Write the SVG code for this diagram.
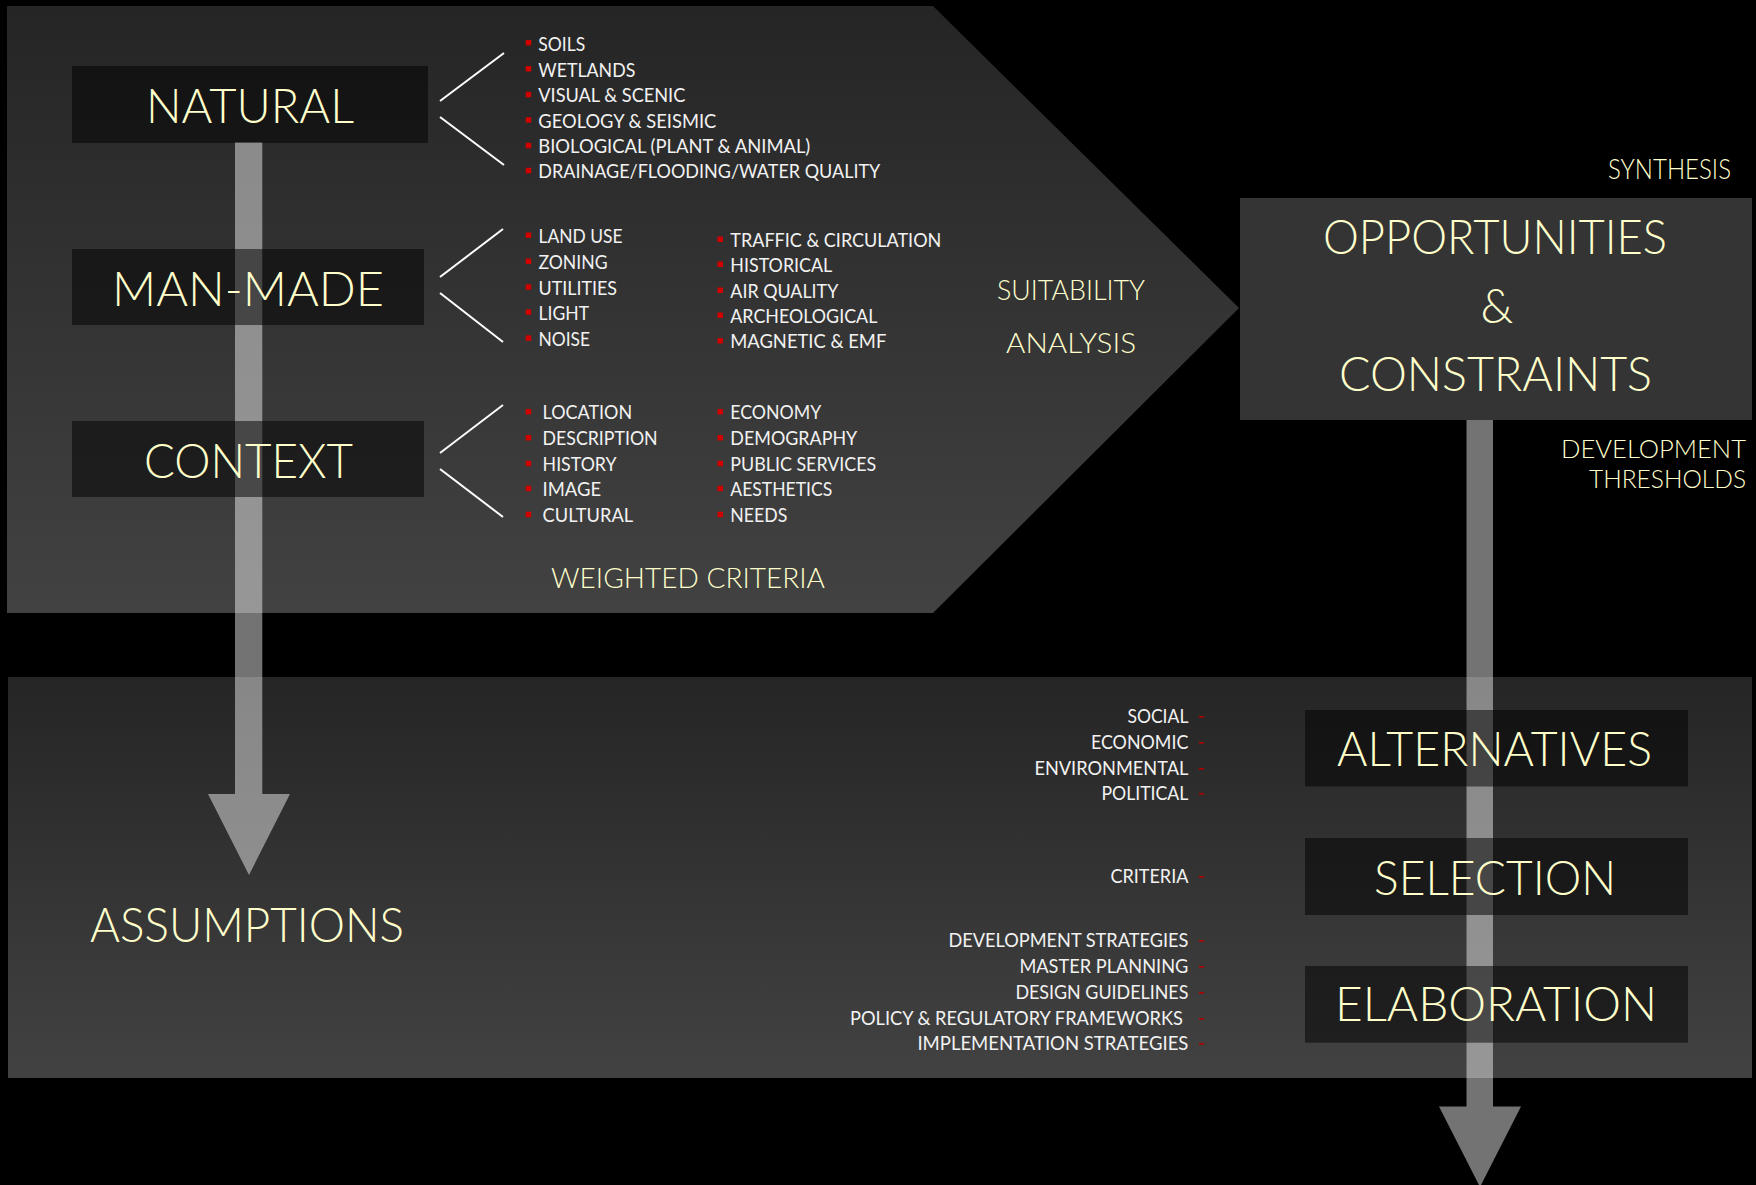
<svg xmlns="http://www.w3.org/2000/svg" width="1756" height="1185" viewBox="0 0 1756 1185">
<defs>
<linearGradient id="pg" x1="0" y1="0" x2="0" y2="1">
<stop offset="0" stop-color="#252525"/>
<stop offset="1" stop-color="#424242"/>
</linearGradient>
<style>
.t{font-family:Lato,"Liberation Sans",sans-serif;font-weight:300;fill:#ffffcc;}
.big{font-size:47px;}
.mid{font-size:27px;}
.sm{font-size:25px;}
.l{font-family:Lato,"Liberation Sans",sans-serif;font-size:19px;fill:#f2f2f2;}
.b{fill:#d00000;}
.d{fill:#b00000;}
.box{fill:#000;fill-opacity:0.51;}
.arrow{fill:#fff;fill-opacity:0.45;}
.br{stroke:#fff;stroke-width:2;fill:none;}
</style>
</defs>
<rect x="0" y="0" width="1756" height="1185" fill="#000"/>
<g id="panel-analysis">
<polygon points="7,6 933,6 1239,308 933,613 7,613" fill="url(#pg)"/>
</g>
<g id="panel-development">
<rect x="8" y="677" width="1744" height="401" fill="url(#pg)"/>
</g>
<g id="connectors">
<path class="arrow" d="M235,142 H262.3 V794 H290 L249,875 L208,794 H235 Z"/>
<path class="arrow" d="M1466.5,420 H1493 V1106.5 H1521 L1480,1187 L1439,1106.5 H1466.5 Z"/>
<line class="br" x1="440" y1="101" x2="504" y2="53"/>
<line class="br" x1="440" y1="117" x2="504" y2="165"/>
<line class="br" x1="440" y1="277" x2="503" y2="229"/>
<line class="br" x1="440" y1="293" x2="503" y2="342"/>
<line class="br" x1="440" y1="453" x2="503" y2="405"/>
<line class="br" x1="440" y1="469" x2="503" y2="517"/>
</g>
<g id="natural">
<rect class="box" x="72" y="66" width="356" height="77"/>
<text class="t big" x="146" y="122.5" textLength="208" lengthAdjust="spacingAndGlyphs">NATURAL</text>
</g>
<g id="man-made">
<rect class="box" x="72" y="249" width="352" height="76"/>
<text class="t big" x="112" y="305.5" textLength="272" lengthAdjust="spacingAndGlyphs">MAN-MADE</text>
</g>
<g id="context">
<rect class="box" x="72" y="421" width="352" height="76"/>
<text class="t big" x="144" y="477.5" textLength="209" lengthAdjust="spacingAndGlyphs">CONTEXT</text>
</g>
<g id="natural-list">
<rect class="b" x="525.7" y="40" width="5.5" height="5.5"/>
<rect class="b" x="525.7" y="66" width="5.5" height="5.5"/>
<rect class="b" x="525.7" y="91.8" width="5.5" height="5.5"/>
<rect class="b" x="525.7" y="117.2" width="5.5" height="5.5"/>
<rect class="b" x="525.7" y="142.8" width="5.5" height="5.5"/>
<rect class="b" x="525.7" y="167.8" width="5.5" height="5.5"/>
<text class="l" x="538.3" y="50.7" textLength="47" lengthAdjust="spacingAndGlyphs">SOILS</text>
<text class="l" x="538.3" y="76.7" textLength="97" lengthAdjust="spacingAndGlyphs">WETLANDS</text>
<text class="l" x="538.3" y="102.3" textLength="147" lengthAdjust="spacingAndGlyphs">VISUAL &amp; SCENIC</text>
<text class="l" x="538.3" y="127.7" textLength="178" lengthAdjust="spacingAndGlyphs">GEOLOGY &amp; SEISMIC</text>
<text class="l" x="538.3" y="153.3" textLength="272" lengthAdjust="spacingAndGlyphs">BIOLOGICAL (PLANT &amp; ANIMAL)</text>
<text class="l" x="538.3" y="178.3" textLength="342" lengthAdjust="spacingAndGlyphs">DRAINAGE/FLOODING/WATER QUALITY</text>
</g>
<g id="man-made-list">
<rect class="b" x="525.7" y="232.5" width="5.5" height="5.5"/>
<rect class="b" x="525.7" y="258.5" width="5.5" height="5.5"/>
<rect class="b" x="525.7" y="284.3" width="5.5" height="5.5"/>
<rect class="b" x="525.7" y="309.3" width="5.5" height="5.5"/>
<rect class="b" x="525.7" y="335.3" width="5.5" height="5.5"/>
<text class="l" x="538.5" y="243.3" textLength="84" lengthAdjust="spacingAndGlyphs">LAND USE</text>
<text class="l" x="538.5" y="269.3" textLength="69" lengthAdjust="spacingAndGlyphs">ZONING</text>
<text class="l" x="538.5" y="295" textLength="78.5" lengthAdjust="spacingAndGlyphs">UTILITIES</text>
<text class="l" x="538.5" y="320" textLength="50.6" lengthAdjust="spacingAndGlyphs">LIGHT</text>
<text class="l" x="538.5" y="346" textLength="51.6" lengthAdjust="spacingAndGlyphs">NOISE</text>
<rect class="b" x="717.5" y="236.5" width="5.5" height="5.5"/>
<rect class="b" x="717.5" y="261.5" width="5.5" height="5.5"/>
<rect class="b" x="717.5" y="287.5" width="5.5" height="5.5"/>
<rect class="b" x="717.5" y="312.5" width="5.5" height="5.5"/>
<rect class="b" x="717.5" y="338" width="5.5" height="5.5"/>
<text class="l" x="730.3" y="246.7" textLength="211" lengthAdjust="spacingAndGlyphs">TRAFFIC &amp; CIRCULATION</text>
<text class="l" x="730.3" y="271.7" textLength="102" lengthAdjust="spacingAndGlyphs">HISTORICAL</text>
<text class="l" x="730.3" y="297.7" textLength="108" lengthAdjust="spacingAndGlyphs">AIR QUALITY</text>
<text class="l" x="730.3" y="322.7" textLength="147" lengthAdjust="spacingAndGlyphs">ARCHEOLOGICAL</text>
<text class="l" x="730.3" y="348.3" textLength="156" lengthAdjust="spacingAndGlyphs">MAGNETIC &amp; EMF</text>
</g>
<g id="context-list">
<rect class="b" x="525.7" y="409" width="5.5" height="5.5"/>
<rect class="b" x="525.7" y="435" width="5.5" height="5.5"/>
<rect class="b" x="525.7" y="460.7" width="5.5" height="5.5"/>
<rect class="b" x="525.7" y="485.7" width="5.5" height="5.5"/>
<rect class="b" x="525.7" y="511.7" width="5.5" height="5.5"/>
<text class="l" x="542.6" y="419.3" textLength="89.5" lengthAdjust="spacingAndGlyphs">LOCATION</text>
<text class="l" x="542.6" y="445.3" textLength="115" lengthAdjust="spacingAndGlyphs">DESCRIPTION</text>
<text class="l" x="542.6" y="471" textLength="74" lengthAdjust="spacingAndGlyphs">HISTORY</text>
<text class="l" x="542.6" y="496" textLength="58.5" lengthAdjust="spacingAndGlyphs">IMAGE</text>
<text class="l" x="542.6" y="522" textLength="90.5" lengthAdjust="spacingAndGlyphs">CULTURAL</text>
<rect class="b" x="717.5" y="409" width="5.5" height="5.5"/>
<rect class="b" x="717.5" y="435" width="5.5" height="5.5"/>
<rect class="b" x="717.5" y="460.7" width="5.5" height="5.5"/>
<rect class="b" x="717.5" y="485.7" width="5.5" height="5.5"/>
<rect class="b" x="717.5" y="511.7" width="5.5" height="5.5"/>
<text class="l" x="730.3" y="419.3" textLength="91" lengthAdjust="spacingAndGlyphs">ECONOMY</text>
<text class="l" x="730.3" y="445.3" textLength="127" lengthAdjust="spacingAndGlyphs">DEMOGRAPHY</text>
<text class="l" x="730.3" y="471" textLength="146" lengthAdjust="spacingAndGlyphs">PUBLIC SERVICES</text>
<text class="l" x="730.3" y="496" textLength="102" lengthAdjust="spacingAndGlyphs">AESTHETICS</text>
<text class="l" x="730.3" y="522" textLength="57" lengthAdjust="spacingAndGlyphs">NEEDS</text>
</g>
<g id="weighted-criteria">
<text class="t mid" x="551" y="588" textLength="274" lengthAdjust="spacingAndGlyphs">WEIGHTED CRITERIA</text>
</g>
<g id="suitability-analysis">
<text class="t mid" x="997" y="300" textLength="148" lengthAdjust="spacingAndGlyphs">SUITABILITY</text>
<text class="t mid" x="1006" y="353" textLength="130" lengthAdjust="spacingAndGlyphs">ANALYSIS</text>
</g>
<g id="synthesis">
<text class="t mid" x="1731" y="179" text-anchor="end" textLength="123" lengthAdjust="spacingAndGlyphs">SYNTHESIS</text>
</g>
<g id="opportunities-constraints">
<rect x="1240" y="198" width="512" height="222" fill="#343434"/>
<text class="t big" x="1323" y="254" textLength="344" lengthAdjust="spacingAndGlyphs">OPPORTUNITIES</text>
<text class="t big" x="1497" y="323" text-anchor="middle">&amp;</text>
<text class="t big" x="1339" y="391" textLength="313" lengthAdjust="spacingAndGlyphs">CONSTRAINTS</text>
</g>
<g id="development-thresholds">
<text class="t sm" x="1746" y="458" text-anchor="end" textLength="185" lengthAdjust="spacingAndGlyphs">DEVELOPMENT</text>
<text class="t sm" x="1746" y="488" text-anchor="end" textLength="157" lengthAdjust="spacingAndGlyphs">THRESHOLDS</text>
</g>
<g id="assumptions">
<text class="t big" x="90" y="942" textLength="314" lengthAdjust="spacingAndGlyphs">ASSUMPTIONS</text>
</g>
<g id="alternatives">
<rect class="box" x="1305" y="710" width="383" height="76.5"/>
<text class="t big" x="1337" y="766" textLength="315" lengthAdjust="spacingAndGlyphs">ALTERNATIVES</text>
</g>
<g id="selection">
<rect class="box" x="1305" y="838" width="383" height="77"/>
<text class="t big" x="1374" y="894.6" textLength="242" lengthAdjust="spacingAndGlyphs">SELECTION</text>
</g>
<g id="elaboration">
<rect class="box" x="1305" y="966" width="383" height="76.7"/>
<text class="t big" x="1335" y="1021" textLength="322" lengthAdjust="spacingAndGlyphs">ELABORATION</text>
</g>
<g id="alternatives-list">
<text class="l" x="1188.4" y="723" text-anchor="end" textLength="61" lengthAdjust="spacingAndGlyphs">SOCIAL</text>
<text class="l" x="1188.4" y="749" text-anchor="end" textLength="97.5" lengthAdjust="spacingAndGlyphs">ECONOMIC</text>
<text class="l" x="1188.4" y="775" text-anchor="end" textLength="154" lengthAdjust="spacingAndGlyphs">ENVIRONMENTAL</text>
<text class="l" x="1188.4" y="800" text-anchor="end" textLength="87" lengthAdjust="spacingAndGlyphs">POLITICAL</text>
<rect class="d" x="1199" y="716" width="5" height="1.6"/>
<rect class="d" x="1199" y="742" width="5" height="1.6"/>
<rect class="d" x="1199" y="768" width="5" height="1.6"/>
<rect class="d" x="1199" y="793" width="5" height="1.6"/>
</g>
<g id="selection-list">
<text class="l" x="1188.4" y="883" text-anchor="end" textLength="78" lengthAdjust="spacingAndGlyphs">CRITERIA</text>
<rect class="d" x="1199" y="876" width="5" height="1.6"/>
</g>
<g id="elaboration-list">
<text class="l" x="1188.4" y="947" text-anchor="end" textLength="240" lengthAdjust="spacingAndGlyphs">DEVELOPMENT STRATEGIES</text>
<text class="l" x="1188.4" y="973" text-anchor="end" textLength="169" lengthAdjust="spacingAndGlyphs">MASTER PLANNING</text>
<text class="l" x="1188.4" y="999" text-anchor="end" textLength="173" lengthAdjust="spacingAndGlyphs">DESIGN GUIDELINES</text>
<text class="l" x="1183" y="1024.7" text-anchor="end" textLength="333" lengthAdjust="spacingAndGlyphs">POLICY &amp; REGULATORY FRAMEWORKS</text>
<text class="l" x="1188.4" y="1050" text-anchor="end" textLength="271" lengthAdjust="spacingAndGlyphs">IMPLEMENTATION STRATEGIES</text>
<rect class="d" x="1199" y="940" width="5" height="1.6"/>
<rect class="d" x="1199" y="966" width="5" height="1.6"/>
<rect class="d" x="1199" y="992" width="5" height="1.6"/>
<rect class="d" x="1199" y="1018" width="5" height="1.6"/>
<rect class="d" x="1199" y="1043" width="5" height="1.6"/>
</g>
</svg>
